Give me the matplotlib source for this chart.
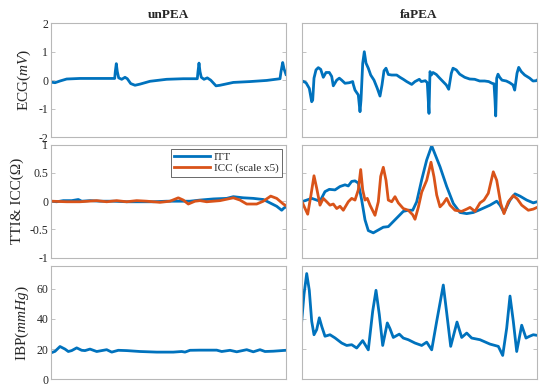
import matplotlib
matplotlib.use("Agg")
import matplotlib.pyplot as plt

# time axis in samples (window width 235 samples)
ecg_un_t = [0, 4, 9, 15.7, 29, 49, 63.7, 64.3, 65.3, 66.3, 67.7, 70.7, 74, 76.3, 79.7, 84, 89, 99,
            115.7, 132.3, 146.3, 147, 148, 149, 150.3, 153, 156.3, 159.7, 165, 169, 182.3, 199,
            215.7, 229, 230, 231.7, 233, 235]
ecg_un = [-0.07, -0.09, -0.03, 0.04, 0.06, 0.06, 0.06, 0.3, 0.58, 0.3, 0.08, 0.03, 0.1, 0.05,
          -0.12, -0.18, -0.14, -0.04, 0.03, 0.05, 0.05, 0.3, 0.6, 0.3, 0.1, 0.03, 0.08, 0.0,
          -0.2, -0.18, -0.08, -0.05, -0.01, 0.05, 0.3, 0.62, 0.4, 0.2]

ecg_fa_t = [0, 4.3, 7.6, 10, 11, 12.3, 14.3, 16.6, 19, 21.6, 24.3, 27.6, 30, 31.6, 35, 37.6, 40,
            43.3, 47.6, 51, 51.6, 53.3, 56.6, 58.3, 59.3, 61, 62.6, 64.3, 66.6, 69, 72.3, 75.6,
            78.3, 80.3, 82.3, 84.3, 86.6, 90, 95, 98.3, 101.6, 105, 110, 113.3, 117.6,
            119.6, 123.6, 125.6, 127.3, 128.3, 129.6, 131.3, 134.6, 138, 141.3, 144.6, 147,
            149.6, 151.3, 154.6, 158, 163, 168, 173, 178, 183, 187, 190.3, 192.3, 193.3, 194,
            195, 196.3, 198, 200.3, 204.6, 208, 211.3, 213, 215.3, 217, 219.6, 223, 228,
            231.3, 234.6, 235.3]
ecg_fa = [-0.02, -0.09, -0.29, -0.76, -0.7, 0.07, 0.36, 0.44, 0.38, 0.1, 0.27, 0.27, 0.13, -0.2,
          0.0, 0.07, 0.0, -0.11, -0.09, -0.05, -0.15, -0.35, -0.52, -1.11, -0.7, 0.59, 1.0, 0.6,
          0.42, 0.18, 0.0, -0.29, -0.56, -0.17, 0.33, 0.42, 0.2, 0.18, 0.18, 0.1, 0.03, -0.05,
          -0.15, -0.05, 0.03,
          -0.05, -0.02, -0.09, -1.17, 0.3, 0.18, 0.27, 0.2, 0.07, -0.05, -0.17, -0.32, 0.24,
          0.42, 0.36, 0.21, 0.1, 0.04, 0.03, -0.03, -0.03, -0.05, -0.11, -0.13, -0.7, -1.26,
          0.07, 0.21, 0.1, 0.0, -0.03, -0.09, -0.17, -0.35, 0.24, 0.45, 0.3, 0.18, 0.07, -0.03,
          -0.02, 0.0]

itt_un_t = [0, 5.7, 12.3, 20.7, 27.3, 30.7, 39, 49, 62.3, 75.7, 89, 102.3, 115.7, 129, 139, 149,
            162.3, 175.7, 182.3, 192.3, 202.3, 212.3, 219, 225.7, 230.7, 233, 235]
itt_un = [0.0, -0.01, 0.01, 0.01, 0.03, 0.0, 0.01, 0.0, 0.0, -0.01, -0.01, -0.01, 0.0, 0.0, 0.0,
          0.02, 0.04, 0.05, 0.08, 0.06, 0.05, 0.03, -0.03, -0.09, -0.16, -0.12, -0.1]
icc_un_t = [0, 15.7, 29, 45.7, 55.7, 65.7, 75.7, 85.7, 95.7, 109, 119, 127.3, 132.3, 137.3, 144,
            149, 155.7, 169, 182.3, 189, 195.7, 205.7, 212.3, 219.7, 225.7, 232.3, 235]
icc_un = [0.0, -0.01, -0.01, 0.01, -0.01, 0.01, -0.01, 0.01, 0.0, -0.02, 0.0, 0.06, 0.02, -0.05,
          0.0, 0.01, -0.01, 0.01, 0.06, 0.02, -0.05, -0.05, 0.0, 0.09, 0.05, -0.05, -0.08]

itt_fa_t = [0, 5, 10, 15, 18.3, 23.3, 27.6, 33.3, 38.3, 43.3, 46.6, 50, 53.3, 56.6, 60, 63.3,
            66.6, 71.6, 76.6, 81.6, 86.6, 91.6, 96.6, 101.6, 106.6, 111, 115, 120, 125, 130,
            138.3, 145, 151.6, 158.3, 165, 171.6, 178.3, 188.3, 195, 198.3, 202.3, 208.3,
            213.3, 218.3, 225, 231.6, 235.3]
itt_fa = [-0.01, 0.02, 0.05, 0.02, 0.0, 0.17, 0.21, 0.2, 0.26, 0.29, 0.27, 0.35, 0.36, 0.32,
          0.02, -0.33, -0.52, -0.56, -0.51, -0.46, -0.45, -0.36, -0.27, -0.18, -0.16, -0.16,
          -0.01, 0.38, 0.73, 0.98, 0.61, 0.26, -0.04, -0.2, -0.22, -0.2, -0.15, -0.07, 0.0,
          -0.07, -0.2, 0.02, 0.13, 0.09, 0.02, -0.03, -0.01]
icc_fa_t = [0, 6, 9, 12.3, 15, 18.3, 21.6, 25, 28.3, 31.6, 35, 38.3, 41.6, 46.6, 50, 53.3, 56.6,
            59, 61, 63.3, 65.6, 68.3, 73.3, 76.6, 79, 81.6, 84.3, 86.6, 90, 93.3, 96.6, 101.6,
            106.6, 111, 113.3, 116.6, 120, 125, 129.3, 132.3, 135, 138.3, 141.6, 145, 148.3,
            153.3, 160, 165, 168.3, 173.3, 178.3, 182.3, 186.6, 191.6, 195, 199, 202.3, 206.6,
            211.6, 215.6, 220, 226.6, 231.6, 235.3]
icc_fa = [0.0, -0.23, 0.08, 0.45, 0.23, -0.07, 0.05, -0.01, -0.07, -0.05, -0.13, -0.09, -0.16,
          -0.01, 0.05, 0.02, 0.2, 0.56, 0.2, 0.02, 0.05, -0.07, -0.25, -0.01, 0.44, 0.6, 0.37,
          0.02, -0.01, 0.08, -0.03, -0.13, -0.16, -0.24, -0.32, -0.11, 0.16, 0.37, 0.69, 0.43,
          0.11, -0.1, -0.04, 0.05, -0.07, -0.16, -0.18, -0.14, -0.11, -0.18, -0.03, 0.02, 0.14,
          0.52, 0.37, -0.04, -0.22, -0.01, 0.1, 0.04, -0.07, -0.16, -0.14, -0.11]

ibp_un_t = [0, 4, 9, 14, 17.3, 20.7, 25.7, 30.7, 34, 39, 45.7, 50.7, 55.7, 60.7, 67.3, 75.7, 89,
            105.7, 122.3, 130.7, 134, 139, 149, 165.7, 170.7, 179, 185.7, 195.7, 202.3, 209,
            214, 222.3, 235]
ibp_un = [17.5, 18.5, 21.7, 20, 18.4, 19, 20.8, 19.2, 19, 20, 18.4, 19, 19.6, 18, 19.2, 19, 18.4,
          18, 18, 18.4, 18, 19.2, 19.3, 19.3, 18.4, 19.2, 18.2, 19.6, 18.2, 19.6, 18.4, 18.6,
          19.2]
ibp_fa_t = [0, 2.3, 5, 7.6, 10, 12.3, 15, 17.6, 20, 23.3, 28.3, 33.3, 40, 45, 50, 55, 61, 66.6,
            71, 74.3, 77.6, 81, 85.6, 88.3, 91.6, 97.6, 101.6, 106.6, 113.3, 120, 125, 130, 135,
            141.6, 145, 149, 155.3, 160, 165, 170, 178.3, 188.3, 196.6, 201, 205, 208.3, 211.6,
            215, 220, 224.3, 227.6, 231.6, 235.3]
ibp_fa = [38.4, 56.2, 70, 58.9, 38.4, 29.5, 32.9, 40.7, 35.1, 28.5, 29.5, 27.4, 24.0, 22.4, 22.9,
          20.7, 25.6, 19.5, 45.1, 58.9, 42.9, 22.4, 37.3, 33.5, 27.7, 29.9, 27.3, 26.2, 24.0,
          22.4, 24.6, 19.5, 38.4, 62.4, 44.0, 21.8, 37.9, 27.7, 30.6, 27.3, 26.2, 23.3, 21.8,
          15.8, 33.9, 55.1, 38.4, 18.4, 35.8, 27.3, 28.4, 29.5, 29.1]

col_titles = ["unPEA", "faPEA"]
row_labels = ["ECG$(mV)$", "TTI& ICC(\u03a9)", "IBP$(mmHg)$"]
row_ylims = [(-2, 2), (-1, 1), (0, 75)]
row_yticks = [[-2, -1, 0, 1, 2], [-1, -0.5, 0, 0.5, 1], [0, 20, 40, 60]]
row_yticklabels = [["-2", "-1", "0", "1", "2"], ["-1", "-0.5", "0", "0.5", "1"],
                   ["0", "20", "40", "60"]]

BLUE = "#0072BD"
ORANGE = "#D95319"
FRAME = "#b8b8b8"
TXT = "#262626"

plt.rcParams["font.family"] = ["Liberation Serif", "DejaVu Serif"]
plt.rcParams["mathtext.fontset"] = "custom"
plt.rcParams["mathtext.it"] = "Liberation Serif:italic"
plt.rcParams["mathtext.rm"] = "Liberation Serif"

fig = plt.figure(figsize=(5.44, 3.86), dpi=100)
W, H = 544, 386
col_x = [51, 301.7]
col_w = 235
row_top = [23.3, 144.7, 266]
row_h = [113.7, 113, 113.3]

axes = [[None, None] for _ in range(3)]
for r in range(3):
    for c in range(2):
        ax = fig.add_axes([col_x[c] / W, (H - row_top[r] - row_h[r]) / H, col_w / W, row_h[r] / H])
        axes[r][c] = ax
        ax.set_xlim(0, 235)
        ax.set_ylim(*row_ylims[r])
        ax.set_xticks([])
        ax.set_yticks(row_yticks[r])
        ax.tick_params(axis="y", direction="in", length=3, width=0.6, color=FRAME,
                       labelsize=8.5, labelcolor=TXT, right=True, pad=2)
        for s in ax.spines.values():
            s.set_color(FRAME)
            s.set_linewidth(0.8)
        if c == 0:
            ax.set_yticklabels(row_yticklabels[r])
            ax.set_ylabel(row_labels[r], fontsize=11, color=TXT, labelpad=4)
        else:
            ax.set_yticklabels([])
        if r == 0:
            ax.set_title(col_titles[c], fontsize=9.5, fontweight="bold", color=TXT, pad=4)

axes[0][0].plot(ecg_un_t, ecg_un, color=BLUE, lw=2)
axes[0][1].plot(ecg_fa_t, ecg_fa, color=BLUE, lw=2)

axes[1][0].plot(itt_un_t, itt_un, color=BLUE, lw=2, label="ITT")
axes[1][0].plot(icc_un_t, icc_un, color=ORANGE, lw=2, label="ICC (scale x5)")
axes[1][1].plot(itt_fa_t, itt_fa, color=BLUE, lw=2)
axes[1][1].plot(icc_fa_t, icc_fa, color=ORANGE, lw=2)

axes[2][0].plot(ibp_un_t, ibp_un, color=BLUE, lw=2)
axes[2][1].plot(ibp_fa_t, ibp_fa, color=BLUE, lw=2)

leg = axes[1][0].legend(loc="upper right", fontsize=8, frameon=True, fancybox=False,
                        borderpad=0.3, handlelength=3.2, handletextpad=0.4, labelspacing=0.15,
                        borderaxespad=0.35)
leg.get_frame().set_edgecolor(TXT)
leg.get_frame().set_linewidth(0.6)
for t in leg.get_texts():
    t.set_color(TXT)

fig.savefig("out.png", dpi=100)
